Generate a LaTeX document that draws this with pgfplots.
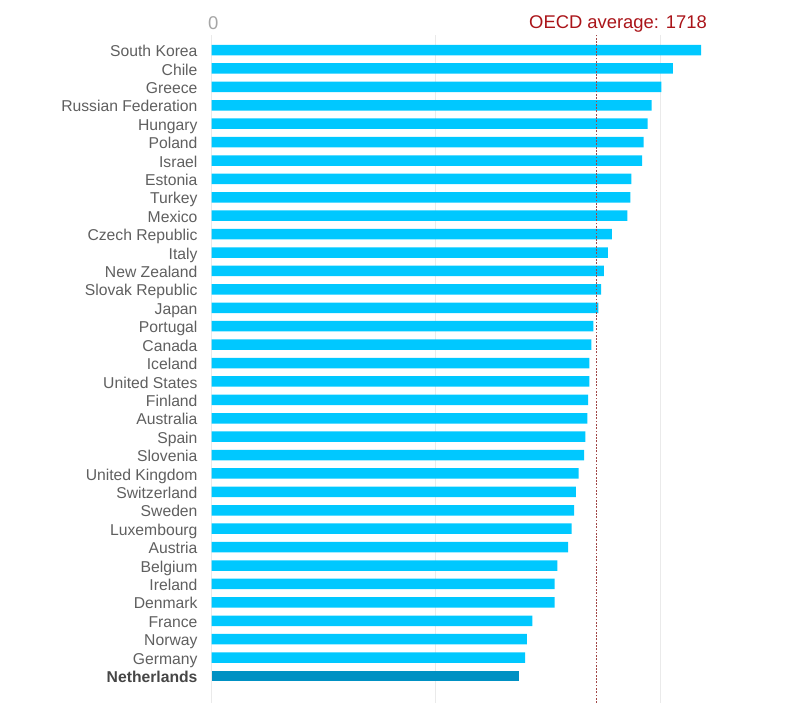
\documentclass[border=0pt]{standalone}
\usepackage{fontspec}
\setmainfont{Liberation Sans}
\usepackage{pgfplots}
\pgfplotsset{compat=1.18}
\definecolor{barblue}{RGB}{0,200,255}
\definecolor{nlblue}{RGB}{0,145,195}
\definecolor{lbl}{RGB}{95,95,95}
\definecolor{nllbl}{RGB}{70,70,70}
\definecolor{avgred}{RGB}{170,20,25}
\definecolor{dotred}{RGB}{160,70,70}
\definecolor{gridgray}{RGB}{234,234,234}
\begin{document}
\begin{tikzpicture}[x=1pt,y=1pt]
\useasboundingbox (0,0) rectangle (800,703);
\begin{axis}[at={(211.5pt,0pt)}, anchor=south west, scale only axis,
  width=588.5pt, height=668pt,
  xmin=0, xmax=2624.3, ymin=-1.4666, ymax=34.818,
  axis line style={draw=none},
  xtick={0,1000,2000}, xticklabels={},
  xmajorgrids, grid style={gridgray, line width=1pt},
  major tick length=0pt,
  ytick={0,...,34},
  yticklabels={{\textbf{\color{nllbl}Netherlands}},Germany,Norway,France,Denmark,Ireland,Belgium,Austria,Luxembourg,Sweden,Switzerland,United Kingdom,Slovenia,Spain,Australia,Finland,United States,Iceland,Canada,Portugal,Japan,Slovak Republic,New Zealand,Italy,Czech Republic,Mexico,Turkey,Estonia,Israel,Poland,Hungary,Russian Federation,Greece,Chile,South Korea},
  yticklabel style={font=\fontsize{15.7}{18}\selectfont, text=lbl, anchor=base east, yshift=-6.6pt, xshift=-10.5pt},
  clip=false]
\addplot[xbar, bar width=10.5pt, bar shift=0pt, fill=barblue, draw=none] coordinates {
(1399,1) (1406,2) (1431,3) (1530,4) (1530,5) (1542,6) (1590,7) (1606,8) (1617,9)
(1625,10) (1637,11) (1662,12) (1667,13) (1676,14) (1680,15) (1685,16) (1685,17)
(1694,18) (1703,19) (1725,20) (1737,21) (1750,22) (1767,23) (1785,24) (1854,25)
(1868,26) (1872,27) (1920,28) (1927,29) (1945,30) (1963,31) (2006,32) (2057,33) (2183,34)};
\addplot[xbar, bar width=10.5pt, bar shift=0pt, fill=nlblue, draw=none] coordinates {(1370,0)};
\addplot[dotred, line width=1.2pt, dash pattern=on 1.8pt off 1.5pt] coordinates {(1718,-1.4666) (1718,34.818)};
\end{axis}
\node[anchor=base, text=gray!70, font=\fontsize{18.5}{21}\selectfont] at (213.3,673) {0};
\node[anchor=base, text=avgred, font=\fontsize{18.4}{22}\selectfont] at (618,674.5) {OECD average: 1718};
\end{tikzpicture}
\end{document}
